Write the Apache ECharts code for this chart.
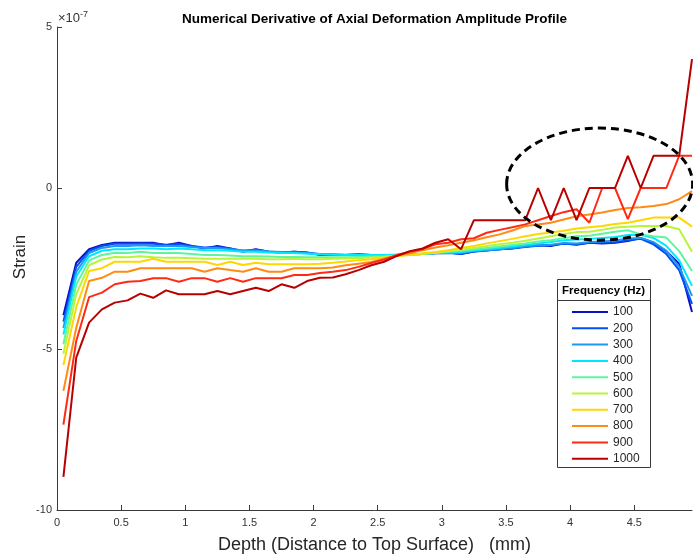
<!DOCTYPE html>
<html>
<head>
<meta charset="utf-8">
<script src="https://cdn.jsdelivr.net/npm/echarts@6/dist/echarts.min.js"></script>
<style>
  html, body { margin: 0; padding: 0; background: #fff; }
  #chart { width: 693px; height: 559px; }
</style>
</head>
<body>
<div id="chart"></div>
<script>
// depth nodes (mm): 0.05, 0.15, ... 4.95
const depth = [];
for (let k = 0; k < 50; k++) depth.push(+(0.05 + 0.1 * k).toFixed(2));

const freqNames = ['100', '200', '300', '400', '500', '600', '700', '800', '900', '1000'];
const lineColors = ['#0a10c8', '#0050f5', '#1e98f0', '#00e8ff', '#5ef5a0', '#b6f53c', '#ffd600', '#ff8a14', '#ff2a14', '#b80000'];

// strain values in units of 1e-7
const s100 = [-3.95,-2.32,-1.90,-1.77,-1.70,-1.70,-1.70,-1.70,-1.78,-1.70,
  -1.80,-1.88,-1.80,-1.88,-1.98,-1.90,-1.98,-2.00,-1.98,-2.00,
  -2.08,-2.08,-2.08,-2.06,-2.08,-2.10,-2.08,-2.06,-2.05,-2.02,
  -2.00,-2.05,-1.97,-1.93,-1.90,-1.88,-1.82,-1.78,-1.80,-1.72,
  -1.76,-1.70,-1.72,-1.70,-1.65,-1.55,-1.70,-1.96,-2.35,-3.85];
const s200 = [-4.15,-2.45,-1.95,-1.80,-1.73,-1.73,-1.72,-1.73,-1.76,-1.74,
  -1.80,-1.85,-1.83,-1.88,-1.95,-1.92,-1.97,-2.00,-1.98,-2.01,
  -2.06,-2.07,-2.08,-2.07,-2.08,-2.09,-2.08,-2.06,-2.05,-2.03,
  -2.02,-2.04,-1.97,-1.94,-1.90,-1.87,-1.83,-1.79,-1.78,-1.73,
  -1.75,-1.70,-1.70,-1.68,-1.62,-1.58,-1.75,-2.05,-2.55,-3.60];
const s300 = [-4.35,-2.60,-2.02,-1.86,-1.80,-1.80,-1.78,-1.80,-1.80,-1.80,
  -1.83,-1.86,-1.86,-1.90,-1.94,-1.94,-1.97,-1.99,-2.00,-2.02,
  -2.05,-2.06,-2.07,-2.07,-2.08,-2.08,-2.07,-2.06,-2.05,-2.03,
  -2.02,-2.02,-1.96,-1.93,-1.90,-1.86,-1.82,-1.78,-1.76,-1.71,
  -1.72,-1.68,-1.66,-1.63,-1.57,-1.55,-1.68,-1.95,-2.45,-3.35];
const s400 = [-4.55,-2.75,-2.12,-1.95,-1.90,-1.90,-1.88,-1.88,-1.90,-1.88,
  -1.90,-1.93,-1.93,-1.95,-1.98,-1.98,-2.00,-2.02,-2.02,-2.04,
  -2.06,-2.07,-2.08,-2.08,-2.08,-2.08,-2.07,-2.05,-2.04,-2.02,
  -2.00,-1.99,-1.94,-1.90,-1.86,-1.82,-1.77,-1.72,-1.68,-1.62,
  -1.60,-1.58,-1.55,-1.52,-1.46,-1.45,-1.55,-1.80,-2.25,-3.04];
const s500 = [-4.85,-3.00,-2.25,-2.08,-2.01,-2.02,-1.98,-2.02,-2.02,-2.02,
  -2.05,-2.08,-2.08,-2.10,-2.12,-2.12,-2.13,-2.14,-2.14,-2.15,
  -2.15,-2.15,-2.15,-2.14,-2.13,-2.12,-2.10,-2.07,-2.05,-2.01,
  -1.98,-1.95,-1.90,-1.86,-1.82,-1.77,-1.72,-1.66,-1.62,-1.56,
  -1.50,-1.48,-1.42,-1.36,-1.31,-1.44,-1.50,-1.54,-1.96,-2.58];
const s600 = [-5.15,-3.30,-2.40,-2.22,-2.14,-2.15,-2.12,-2.15,-2.17,-2.17,
  -2.18,-2.20,-2.20,-2.20,-2.20,-2.20,-2.21,-2.21,-2.20,-2.21,
  -2.21,-2.20,-2.19,-2.18,-2.16,-2.14,-2.11,-2.08,-2.05,-2.01,
  -1.96,-1.92,-1.86,-1.80,-1.75,-1.70,-1.64,-1.57,-1.50,-1.43,
  -1.37,-1.36,-1.30,-1.23,-1.20,-1.18,-1.18,-1.18,-1.28,-1.98];
const s700 = [-5.50,-3.70,-2.58,-2.49,-2.29,-2.29,-2.29,-2.20,-2.29,-2.29,
  -2.29,-2.29,-2.39,-2.29,-2.39,-2.32,-2.37,-2.37,-2.37,-2.37,
  -2.35,-2.32,-2.28,-2.24,-2.21,-2.17,-2.11,-2.07,-2.03,-1.99,
  -1.93,-1.86,-1.80,-1.72,-1.65,-1.58,-1.50,-1.43,-1.38,-1.33,
  -1.26,-1.22,-1.18,-1.12,-1.08,-1.00,-0.92,-0.92,-0.92,-1.20];
const s800 = [-6.30,-4.34,-2.89,-2.79,-2.60,-2.60,-2.49,-2.49,-2.49,-2.49,
  -2.49,-2.60,-2.49,-2.55,-2.60,-2.49,-2.60,-2.60,-2.49,-2.49,
  -2.49,-2.47,-2.40,-2.35,-2.30,-2.20,-2.10,-2.03,-1.93,-1.85,
  -1.78,-1.70,-1.62,-1.53,-1.44,-1.32,-1.18,-1.13,-1.08,-0.98,
  -0.88,-0.82,-0.76,-0.68,-0.62,-0.60,-0.56,-0.50,-0.35,-0.10];
const s900 = [-7.35,-4.75,-3.39,-3.25,-2.99,-2.91,-2.89,-2.80,-2.80,-2.91,
  -2.80,-2.80,-2.91,-2.80,-2.91,-2.80,-2.80,-2.80,-2.70,-2.70,
  -2.64,-2.60,-2.55,-2.45,-2.33,-2.22,-2.08,-1.98,-1.90,-1.75,
  -1.70,-1.59,-1.56,-1.39,-1.30,-1.22,-1.13,-1.00,-0.87,-0.75,
  -0.66,-1.08,0,0,-0.97,0,0,0,1,1];
const s1000 = [-8.97,-5.27,-4.18,-3.77,-3.56,-3.49,-3.28,-3.41,-3.18,-3.30,
  -3.30,-3.30,-3.20,-3.30,-3.20,-3.10,-3.20,-2.99,-3.10,-2.89,
  -2.79,-2.78,-2.68,-2.55,-2.40,-2.29,-2.11,-1.96,-1.88,-1.70,
  -1.59,-1.90,-1.00,-1.00,-1.00,-1.00,-1.00,0,-1,0,
  -1,0,0,0,1,0,1,1,1,4.0];
const strainSets = [s100, s200, s300, s400, s500, s600, s700, s800, s900, s1000];

const xTicks = [0, 0.5, 1, 1.5, 2, 2.5, 3, 3.5, 4, 4.5];

const font = "'Liberation Sans', Arial, sans-serif";
const axisColor = '#3a3a3a';

const chart = echarts.init(document.getElementById('chart'));

const series = strainSets.map((vals, i) => ({
  name: freqNames[i],
  type: 'line',
  data: vals.map((v, k) => [depth[k], v]),
  symbol: 'none',
  lineStyle: { color: lineColors[i], width: 2 },
  itemStyle: { color: lineColors[i] },
  emphasis: { disabled: true }
}));

chart.setOption({
  animation: false,
  textStyle: { fontFamily: font },
  title: {
    text: 'Numerical Derivative of Axial Deformation Amplitude Profile',
    left: 369.5,
    textAlign: 'center',
    top: 7,
    textStyle: { fontSize: 13.5, fontWeight: 'bold', color: '#000', fontFamily: font }
  },
  grid: { left: 57, right: 1, top: 27, bottom: 49, containLabel: false, outerBoundsMode: 'none' },
  xAxis: {
    type: 'value',
    min: 0,
    max: 4.95,
    name: 'Depth (Distance to Top Surface)   (mm)',
    nameLocation: 'middle',
    nameGap: 26,
    nameTextStyle: { fontSize: 18, color: '#262626', fontFamily: font },
    axisLine: { onZero: false, lineStyle: { color: axisColor, width: 1 } },
    axisTick: { inside: true, length: 5, customValues: xTicks, lineStyle: { color: axisColor } },
    axisLabel: { customValues: xTicks, fontSize: 11, color: '#333', margin: 7 },
    splitLine: { show: false }
  },
  yAxis: {
    type: 'value',
    min: -10,
    max: 5,
    interval: 5,
    name: 'Strain',
    nameLocation: 'middle',
    nameGap: 28,
    nameMoveOverlap: false,
    nameRotate: 90,
    nameTextStyle: { fontSize: 17, color: '#262626', fontFamily: font, padding: [0, 0, 0, 23] },
    axisLine: { show: true, onZero: false, lineStyle: { color: axisColor, width: 1 } },
    axisTick: { show: true, inside: true, length: 5, lineStyle: { color: axisColor } },
    axisLabel: { fontSize: 11, color: '#333', margin: 5 },
    splitLine: { show: false }
  },
  legend: {
    data: freqNames,
    orient: 'vertical',
    left: 572,
    top: 306,
    padding: 0,
    icon: 'path://M0,0 L36,0 L36,2 L0,2 Z',
    itemWidth: 36,
    itemHeight: 16,
    itemGap: 4.3,
    textStyle: { fontSize: 12, color: '#262626', fontFamily: font },
    z: 6
  },
  series: series
});

// legend frame + title, exponent label, dashed ellipse annotation
const c = chart.convertToPixel({ gridIndex: 0 }, [4.23, 0.12]);
const e = chart.convertToPixel({ gridIndex: 0 }, [4.23 + 0.725, 0.12 + 1.74]);
chart.setOption({
  graphic: [
    {
      type: 'rect', z: 5,
      shape: { x: 557.5, y: 279.5, width: 93, height: 188 },
      style: { fill: '#fff', stroke: '#3a3a3a', lineWidth: 1 }
    },
    {
      type: 'line', z: 5,
      shape: { x1: 557.5, y1: 300.5, x2: 650.5, y2: 300.5 },
      style: { stroke: '#3a3a3a', lineWidth: 1 }
    },
    {
      type: 'text', z: 6, left: 562, top: 285,
      style: { text: 'Frequency (Hz)', font: "bold 11.5px 'Liberation Sans', Arial", fill: '#000' }
    },
    {
      type: 'text', z: 6, left: 58, top: 10,
      style: {
        text: '{b|×10}{s|-7}',
        rich: {
          b: { fontSize: 13, fill: '#333', fontFamily: font },
          s: { fontSize: 9, fill: '#333', fontFamily: font, padding: [0, 0, 7, 0] }
        }
      }
    },
    {
      type: 'ellipse', z: 7,
      shape: { cx: c[0], cy: c[1], rx: e[0] - c[0], ry: c[1] - e[1] },
      style: { fill: null, stroke: '#000', lineWidth: 3, lineDash: [8, 5] }
    }
  ]
});
</script>
</body>
</html>
